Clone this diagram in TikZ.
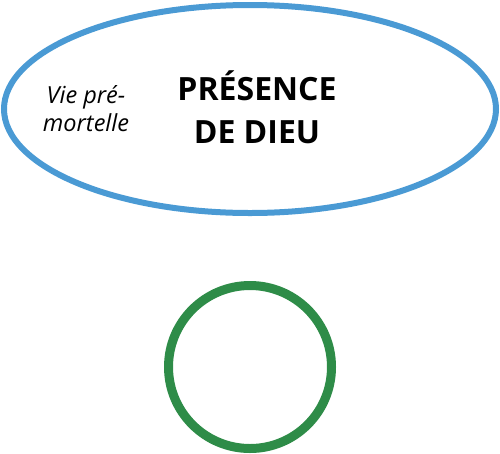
\documentclass[tikz,border=0pt]{standalone}
\usepackage{fontspec}
\setmainfont{Open Sans}
\definecolor{ellblue}{RGB}{74,154,212}
\definecolor{circgreen}{RGB}{46,140,72}
\begin{document}
\begin{tikzpicture}[x=1pt,y=-1pt,
  boldtxt/.style={font=\fontsize{32}{43}\selectfont\bfseries, align=center, inner sep=0pt},
  itxt/.style={font=\fontsize{23.5}{28}\selectfont\itshape, align=center, inner sep=0pt}]
\useasboundingbox (0,0) rectangle (500,453);
\draw[ellblue, line width=6pt] (250,109) ellipse [x radius=246, y radius=104];
\draw[circgreen, line width=9pt] (250,367) circle [radius=81.5];
\node[boldtxt, anchor=base] (pres) at (257,143) {PRÉSENCE\\DE DIEU};
\node[itxt, anchor=base] (vie) at (86,131) {Vie pré-\\mortelle};
\end{tikzpicture}
\end{document}
